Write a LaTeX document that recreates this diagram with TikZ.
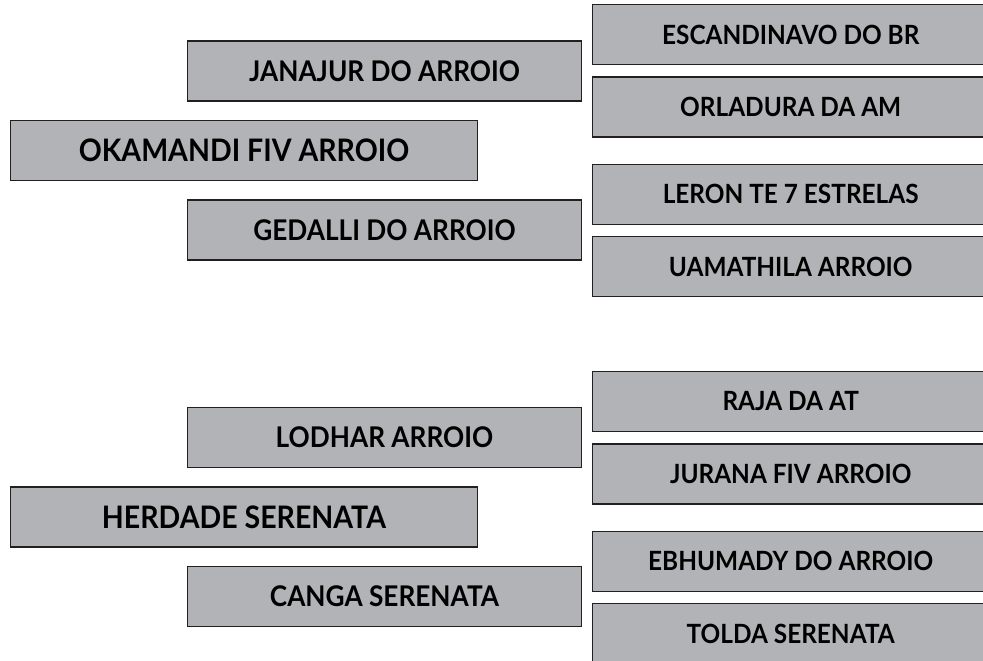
\documentclass[tikz,border=0pt]{standalone}
\usepackage{fontspec}
\setmainfont{Lato}[FakeStretch=0.92]
\usepackage{tikz}
\usetikzlibrary{positioning}
\definecolor{BoxGray}{HTML}{B2B3B6}
\definecolor{BoxLine}{HTML}{231F20}

\begin{document}
\begin{tikzpicture}[
    x=1pt, y=1pt,
    node distance=11pt and 10pt,
    box/.style={rectangle, draw=BoxLine, fill=BoxGray, line width=1.4pt, inner sep=0pt, minimum height=60pt},
    bigbox/.style={box, minimum width=467pt, font=\fontsize{31}{33}\selectfont\bfseries},
    midbox/.style={box, minimum width=394pt, font=\fontsize{28.5}{30}\selectfont\bfseries},
    leafbox/.style={box, minimum width=396pt, font=\fontsize{26.5}{28}\selectfont\bfseries}
]
\useasboundingbox (0,0) rectangle (983,-661);

% Upper group
\node[bigbox] (okamandi) at (244,-150.5) {OKAMANDI FIV ARROIO};
\node[midbox] (janajur) at (384.5,-71) {JANAJUR DO ARROIO};
\node[midbox] (gedalli) at (384.5,-230) {GEDALLI DO ARROIO};

\node[leafbox, anchor=west] (escandinavo) at (592,-34.5) {ESCANDINAVO DO BR};
\node[leafbox, below=11pt of escandinavo] (orladura) {ORLADURA DA AM};
\node[leafbox, below=26pt of orladura] (leron) {LERON TE 7 ESTRELAS};
\node[leafbox, below=11pt of leron] (uamathila) {UAMATHILA ARROIO};

% Lower group
\node[bigbox] (herdade) at (244,-517) {HERDADE SERENATA};
\node[midbox] (lodhar) at (384.5,-437.5) {LODHAR ARROIO};
\node[midbox] (canga) at (384.5,-596.5) {CANGA SERENATA};

\node[leafbox, anchor=west] (raja) at (592,-401.5) {RAJA DA AT};
\node[leafbox, below=11pt of raja] (jurana) {JURANA FIV ARROIO};
\node[leafbox, below=26pt of jurana] (ebhumady) {EBHUMADY DO ARROIO};
\node[leafbox, below=11pt of ebhumady] (tolda) {TOLDA SERENATA};

\end{tikzpicture}
\end{document}
